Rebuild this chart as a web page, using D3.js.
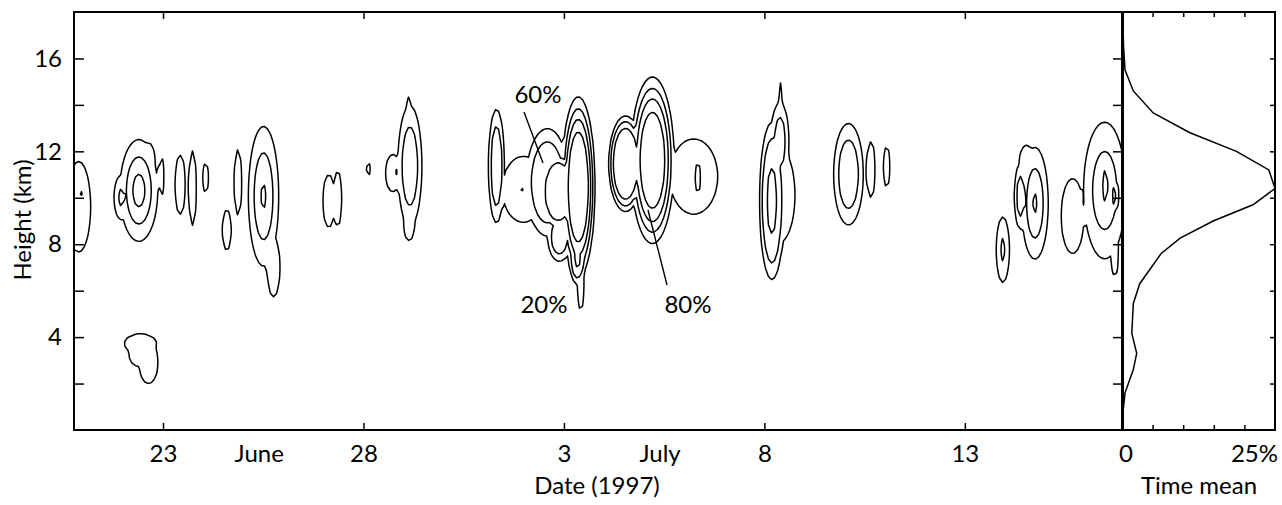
<!DOCTYPE html>
<html>
<head>
<meta charset="utf-8">
<script src="https://cdn.jsdelivr.net/npm/d3@7"></script>
<style>
  body { margin: 0; background: #fff; }
  text { font-family: Lato, "Open Sans", sans-serif; fill: #000; }
</style>
</head>
<body>
<svg id="chart" width="1282" height="505"></svg>
<script>
// ---- data ----
// days counted from 1 June 1997 (July 3 = 33)
var dayTicks = [23, 28, 33, 38, 43];
var dayLabels = ["23", "28", "3", "8", "13"];
var monthNames = ["June", "July"];
var monthDays = [25.4, 35.4];
var heightTicks = [2, 4, 6, 8, 10, 12, 14, 16];
var heightLabels = [4, 8, 12, 16];
var levels = [0.2, 0.4, 0.6, 0.8];

// cloud cells: [day, height km, spread day, spread km, peak fraction, shape]
var cells = [
  [20.86, 9.7, 0.28, 1.83, 0.38, 2],
  [20.9, 10.3, 0.07, 0.28, 0.42, 2],
  [22.36, 10.4, 0.3, 1.4, 0.68, 1],
  [21.92, 10.1, 0.14, 0.75, 0.45, 1],
  [22.6, 11.7, 0.17, 0.8, 0.3, 2],
  [22.93, 11.0, 0.074, 0.84, 0.3, 2],
  [23.39, 10.65, 0.14, 1.34, 0.3, 2],
  [23.7, 10.5, 0.1, 1.69, 0.3, 2],
  [24.02, 10.95, 0.085, 0.65, 0.3, 2],
  [24.555, 8.7, 0.12, 0.92, 0.3, 2],
  [24.83, 10.75, 0.1, 1.48, 0.3, 2],
  [25.47, 10.15, 0.25, 2.0, 0.62, 1],
  [25.72, 7.1, 0.17, 1.35, 0.3, 2],
  [22.4, 3.8, 0.42, 0.45, 0.3, 3],
  [22.6, 3.0, 0.25, 0.95, 0.3, 3],
  [22.35, 3.35, 0.25, 0.55, 0.3, 2],
  [27.1, 9.95, 0.17, 1.25, 0.28, 2],
  [27.32, 10.05, 0.12, 1.3, 0.28, 2],
  [28.09, 11.33, 0.07, 0.36, 0.24, 2],
  [29.12, 11.45, 0.24, 2.1, 0.52, 1.5],
  [29.1, 13.4, 0.08, 1.1, 0.3, 2],
  [29.1, 9.0, 0.15, 0.8, 0.3, 2],
  [28.7, 11.15, 0.2, 0.85, 0.3, 2],
  [28.77, 11.2, 0.07, 0.28, 0.42, 2],
  [31.28, 11.45, 0.17, 2.1, 0.5, 2],
  [31.95, 10.45, 0.55, 1.5, 0.3, 2],
  [31.9, 10.45, 0.07, 0.28, 0.42, 2],
  [32.55, 10.75, 0.47, 2.05, 0.5, 2.5],
  [32.82, 10.35, 0.38, 1.45, 0.7, 4],
  [32.85, 8.4, 0.25, 0.9, 0.5, 2],
  [33.32, 10.55, 0.31, 2.9, 1.0, 2],
  [33.38, 6.5, 0.1, 1.3, 0.3, 2],
  [33.3, 7.6, 0.17, 1.0, 0.62, 2],
  [35.17, 11.7, 0.405, 2.7, 0.95, 2],
  [34.5, 11.55, 0.355, 1.75, 0.75, 3],
  [36.2, 11.0, 0.59, 1.6, 0.35, 4],
  [36.3, 10.95, 0.15, 1.07, 0.42, 2],
  [38.15, 9.95, 0.25, 2.76, 0.62, 2],
  [38.35, 12.5, 0.2, 1.5, 0.45, 2],
  [38.37, 13.8, 0.06, 1.3, 0.3, 2],
  [38.3, 10.2, 0.45, 2.2, 0.3, 2],
  [40.06, 11.1, 0.32, 1.9, 0.48, 2],
  [40.62, 11.3, 0.115, 1.26, 0.3, 2],
  [41.01, 11.42, 0.095, 0.9, 0.3, 2],
  [43.91, 7.85, 0.13, 1.12, 0.44, 1],
  [44.71, 9.85, 0.22, 1.6, 0.62, 1],
  [44.35, 10.15, 0.136, 1.25, 0.45, 2],
  [44.5, 11.5, 0.2, 0.9, 0.3, 2],
  [45.65, 9.3, 0.3, 1.7, 0.3, 2],
  [46.45, 10.4, 0.366, 2.05, 0.56, 1],
  [46.455, 10.6, 0.12, 1.1, 0.64, 2],
  [46.685, 10.17, 0.1, 0.7, 0.63, 2],
  [46.7, 7.5, 0.1, 0.8, 0.3, 2]
];

// time mean profile
var meanHeight = [17.6, 16.5, 15.5, 14.6, 13.65, 12.8, 12.0, 11.2, 10.4, 9.7, 9.0, 8.26, 7.6, 6.3, 5.45, 4.17, 3.3, 2.6, 1.6, 0.86, 0.4];
var meanPct = [0.15, 0.25, 0.5, 1.85, 5.1, 11.1, 18.7, 24.0, 25.0, 21.4, 14.9, 9.5, 6.4, 2.9, 1.85, 1.6, 2.4, 1.85, 0.5, 0.2, 0];
var meanTicks = [5, 10, 15, 20];

// ---- layout ----
var L = 74, M = 1122, R = 1275, T = 12, B = 430;
var svg = d3.select("#chart");

var x = d3.scaleLinear().domain([20.78, 46.92]).range([L, M]);
var y = d3.scaleLinear().domain([0, 18]).range([B, T]);
var xm = d3.scaleLinear().domain([0, 25]).range([M, R]);

// ---- contour field, sampled every gx by gy pixels ----
var gx = 3, gy = 4;
var nx = Math.ceil((M - L) / gx) + 1, ny = Math.ceil((B - T) / gy) + 1;
var field = new Float64Array(nx * ny);
cells.forEach(function (c) {
  var cx = x(c[0]), cy = y(c[1]);
  var sx = x(c[0] + c[2]) - cx, sy = cy - y(c[1] + c[3]);
  var i0 = Math.max(0, Math.floor((cx - 3.2 * sx - L) / gx)), i1 = Math.min(nx - 1, Math.ceil((cx + 3.2 * sx - L) / gx));
  var j0 = Math.max(0, Math.floor((cy - 3.2 * sy - T) / gy)), j1 = Math.min(ny - 1, Math.ceil((cy + 3.2 * sy - T) / gy));
  for (var j = j0; j <= j1; j++) {
    var v = (T + j * gy - cy) / sy;
    for (var i = i0; i <= i1; i++) {
      var u = (L + i * gx - cx) / sx;
      var f = c[4] * Math.exp(-0.5 * Math.pow(u * u + v * v, c[5]));
      var k = j * nx + i;
      if (f > field[k]) field[k] = f;
    }
  }
});

var contours = d3.contours().size([nx, ny]).thresholds(levels)(Array.from(field));
var shift = d3.geoTransform({ point: function (px, py) { this.stream.point(L + px * gx, T + py * gy); } });
var path = d3.geoPath(shift);

svg.append("clipPath").attr("id", "plot").append("rect")
  .attr("x", L).attr("y", T).attr("width", M - L).attr("height", B - T);

svg.append("g").attr("clip-path", "url(#plot)")
  .selectAll("path").data(contours).enter().append("path")
  .attr("d", path)
  .attr("fill", "none")
  .attr("stroke", "#000")
  .attr("stroke-width", 1.5)
  .attr("stroke-linejoin", "round");

// ---- time mean line ----
var line = d3.line().x(function (d, i) { return xm(meanPct[i]); }).y(function (d) { return y(d); });
svg.append("path").datum(meanHeight)
  .attr("d", line)
  .attr("fill", "none")
  .attr("stroke", "#000")
  .attr("stroke-width", 1.5);

// ---- axes ----
var fs = 24;
function styleAxis(g) {
  g.select(".domain").remove();
  g.selectAll(".tick line").attr("stroke", "#000").attr("stroke-width", 1.5);
  g.selectAll("text").attr("font-family", "Lato, 'Open Sans', sans-serif").attr("font-size", fs).attr("fill", "#000");
}

svg.append("g").attr("transform", "translate(0," + B + ")")
  .call(d3.axisBottom(x).tickValues(dayTicks).tickSize(-7).tickPadding(15)
    .tickFormat(function (d, i) { return dayLabels[i]; }))
  .call(styleAxis);
svg.append("g").attr("transform", "translate(0," + T + ")")
  .call(d3.axisTop(x).tickValues(dayTicks).tickSize(-7).tickFormat(""))
  .call(styleAxis);
svg.append("g").attr("transform", "translate(" + L + ",0)")
  .call(d3.axisLeft(y).tickValues(heightTicks).tickSize(-10).tickPadding(12)
    .tickFormat(function (d) { return heightLabels.indexOf(d) >= 0 ? d : ""; }))
  .call(styleAxis);
svg.append("g").attr("transform", "translate(" + M + ",0)")
  .call(d3.axisRight(y).tickValues(heightTicks).tickSize(-9).tickFormat(""))
  .call(styleAxis);
svg.append("g").attr("transform", "translate(" + R + ",0)")
  .call(d3.axisRight(y).tickValues(heightTicks).tickSize(-5).tickFormat(""))
  .call(styleAxis);
svg.append("g").attr("transform", "translate(0," + B + ")")
  .call(d3.axisBottom(xm).tickValues(meanTicks).tickSize(-5).tickFormat(""))
  .call(styleAxis);
svg.append("g").attr("transform", "translate(0," + T + ")")
  .call(d3.axisTop(xm).tickValues(meanTicks).tickSize(-5).tickFormat(""))
  .call(styleAxis);

// frame
var frame = svg.append("g").attr("stroke", "#000").attr("fill", "none");
frame.append("line").attr("x1", L).attr("x2", R + 1).attr("y1", T).attr("y2", T).attr("stroke-width", 2);
frame.append("line").attr("x1", L).attr("x2", R + 1).attr("y1", B).attr("y2", B).attr("stroke-width", 2);
frame.append("line").attr("x1", L).attr("x2", L).attr("y1", T - 1).attr("y2", B + 1).attr("stroke-width", 2);
frame.append("line").attr("x1", R).attr("x2", R).attr("y1", T - 1).attr("y2", B + 1).attr("stroke-width", 2);
frame.append("line").attr("x1", M + 0.5).attr("x2", M + 0.5).attr("y1", T - 1).attr("y2", B + 1).attr("stroke-width", 3);

// labels
svg.selectAll(".month").data(monthNames).enter().append("text")
  .attr("x", function (d, i) { return x(monthDays[i]); }).attr("y", 462)
  .attr("text-anchor", "middle").attr("font-size", fs).text(function (d) { return d; });
svg.append("text").attr("x", xm(0) + 4).attr("y", 462).attr("text-anchor", "middle").attr("font-size", fs).text("0");
svg.append("text").attr("x", xm(25) + 3).attr("y", 462).attr("text-anchor", "end").attr("font-size", fs).text("25%");
svg.append("text").attr("x", 597).attr("y", 494).attr("text-anchor", "middle").attr("font-size", fs).text("Date (1997)");
svg.append("text").attr("x", 1199).attr("y", 494).attr("text-anchor", "middle").attr("font-size", fs).text("Time mean");
svg.append("text").attr("transform", "translate(31,220) rotate(-90)").attr("text-anchor", "middle").attr("font-size", fs).text("Height (km)");

// contour annotations
svg.append("text").attr("x", 538).attr("y", 103).attr("text-anchor", "middle").attr("font-size", fs).text("60%");
svg.append("text").attr("x", 544).attr("y", 313).attr("text-anchor", "middle").attr("font-size", fs).text("20%");
svg.append("text").attr("x", 688).attr("y", 313).attr("text-anchor", "middle").attr("font-size", fs).text("80%");
svg.append("line").attr("x1", 524).attr("y1", 112).attr("x2", 543).attr("y2", 163).attr("stroke", "#000").attr("stroke-width", 1.4);
svg.append("line").attr("x1", 648).attr("y1", 210).attr("x2", 667).attr("y2", 285).attr("stroke", "#000").attr("stroke-width", 1.4);
</script>
</body>
</html>
